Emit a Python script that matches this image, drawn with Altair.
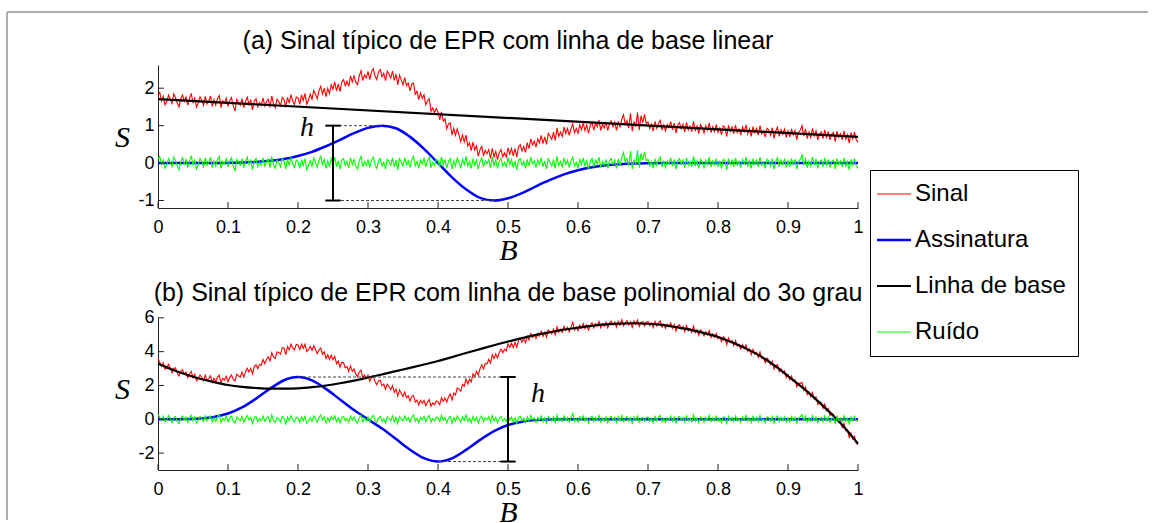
import altair as alt
import numpy as np
import pandas as pd

# ---------------------------------------------------------------- series / style
SERIES = ["Sinal", "Assinatura", "Linha de base", "Ruído"]
COLORS = ["#ff0000", "#0000ff", "#000000", "#00ff00"]
WIDTHS = [1.1, 2.5, 2.2, 1.1]

B_TICKS = [0, 0.1, 0.2, 0.3, 0.4, 0.5, 0.6, 0.7, 0.8, 0.9, 1]
S_TICKS_A = [-1, 0, 1, 2]
S_TICKS_B = [-2, 0, 2, 4, 6]

TITLE_A = "(a) Sinal típico de EPR com linha de base linear"
TITLE_B = "(b) Sinal típico de EPR com linha de base polinomial do 3o grau"

# smooth components sampled every 0.02 in B
B_SMOOTH = [i / 50 for i in range(51)]

# ---------------------------------------------------------------- panel (a)
BASE_A_B = [0, 1]
BASE_A_S = [1.71, 0.70]

BLUE_A = [0, 0, 0, 0, 0.001, 0.005,
          0.013, 0.03, 0.06, 0.11, 0.19, 0.30, 0.45, 0.62, 0.80, 0.94,
          1.0, 0.93, 0.70, 0.38, 0, -0.38, -0.70, -0.93, -1.0, -0.94,
          -0.80, -0.62, -0.45, -0.30, -0.19, -0.11, -0.06, -0.03, -0.013, -0.005,
          0, 0, 0, 0, 0, 0, 0, 0, 0, 0, 0, 0, 0, 0, 0]

NOISE_A = [
    0.10, 0.18, -0.04, 0.08, -0.14, -0.06, 0.12, 0.02, -0.10, 0.16, 0.06, -0.08, -0.18, 0.04, 0.14, -0.02, 0.10, -0.12, 0.06, 0.20,
    -0.06, 0.08, -0.16, -0.04, 0.12, 0.04, -0.10, 0.14, -0.06, 0.02, 0.16, -0.12, 0.06, -0.08, 0.10, 0.18, -0.14, 0.04, -0.02, 0.12,
    -0.10, 0.06, 0.14, -0.08, -0.22, 0.10, 0.02, -0.06, 0.12, -0.12, 0.04, 0.16, -0.04, 0.08, -0.18, 0.06, 0.12, -0.10, 0.02, -0.06,
    0.14, -0.08, 0.04, 0.10, -0.12, 0.18, -0.04, -0.14, 0.08, 0.02, -0.10, 0.12, 0.06, -0.16, 0.10, -0.06, 0.16, -0.02, -0.12, 0.08,
    0.04, -0.14, 0.10, -0.06, 0.12, -0.18, -0.08, 0.06, -0.08, 0.14, 0.02, -0.12, 0.08, 0.18, -0.04, 0.10, -0.14, 0.06, -0.10, 0.12,
    -0.02, 0.16, -0.10, 0.06, -0.16, 0.08, 0.12, -0.06, 0.04, -0.12, 0.14, -0.04, 0.10, -0.08, -0.16, 0.06, 0.18, -0.10, 0.04, -0.06,
    0.10, -0.12, 0.08, 0.16, -0.04, -0.14, 0.06, 0.12, -0.08, 0.02, -0.16, 0.10, 0.04, -0.06, 0.14, -0.10, 0.08, -0.18, 0.12, 0.02,
    -0.08, 0.14, -0.04, 0.06, -0.12, 0.10, 0.18, -0.08, 0.04, -0.14, 0.08, -0.02, 0.12, -0.10, 0.06, 0.16, -0.12, 0.02, -0.06, 0.10,
    0.06, -0.10, 0.16, -0.04, 0.08, -0.14, 0.04, 0.12, -0.16, 0.06, -0.08, 0.14, 0.02, -0.12, 0.10, -0.04, 0.18, -0.08, 0.04, -0.14,
    0.12, -0.06, 0.08, -0.16, 0.04, 0.14, -0.10, 0.06, -0.02, 0.10, -0.12, 0.16, -0.06, 0.08, -0.14, 0.04, 0.12, -0.08, 0.02, -0.10,
    0.14, -0.04, 0.10, -0.12, 0.06, -0.18, 0.08, 0.12, -0.06, 0.04, -0.14, 0.10, -0.08, 0.16, -0.02, 0.06, -0.12, 0.08, -0.04, 0.14,
    -0.10, 0.06, -0.16, 0.12, 0.02, -0.08, 0.10, -0.14, 0.18, -0.06, 0.04, -0.10, 0.14, -0.04, 0.08, -0.12, 0.06, 0.16, -0.08, 0.02,
    -0.12, 0.10, -0.04, 0.14, -0.08, 0.06, -0.16, 0.04, 0.12, -0.10, 0.08, -0.02, 0.16, -0.12, 0.04, -0.06, 0.10, -0.14, 0.06, 0.12,
    -0.04, 0.08, -0.14, 0.10, -0.06, 0.16, 0.28, 0.02, 0.12, -0.08, 0.32, -0.16, 0.10, -0.04, 0.34, -0.12, 0.26, 0.08, 0.30, 0.06,
    0.10, -0.08, 0.04, -0.14, 0.12, -0.06, 0.08, 0.16, -0.10, 0.04, -0.12, 0.06, -0.02, 0.14, -0.08, 0.10, -0.16, 0.06, 0.12, -0.04,
    0.08, -0.12, 0.14, -0.06, 0.04, -0.10, 0.18, -0.08, 0.06, -0.14, 0.10, 0.02, -0.12, 0.08, -0.04, 0.16, -0.10, 0.06, -0.06, 0.12,
    -0.08, 0.04, -0.14, 0.10, 0.06, -0.18, 0.12, -0.04, 0.08, -0.10, 0.14, -0.06, 0.04, -0.12, 0.10, -0.02, 0.16, -0.08, 0.06, -0.14,
    0.12, -0.04, 0.08, -0.10, 0.16, -0.06, 0.02, -0.14, 0.10, 0.06, -0.08, 0.12, -0.16, 0.04, 0.14, -0.10, 0.08, -0.04, 0.10, -0.12,
    0.06, -0.10, 0.12, -0.04, 0.08, -0.16, 0.04, 0.10, 0.22, -0.06, 0.14, -0.12, 0.06, -0.08, 0.16, -0.04, 0.10, -0.14, 0.02, 0.08,
    -0.10, 0.14, -0.06, 0.10, -0.12, 0.04, 0.08, -0.16, 0.12, -0.04, 0.06, -0.10, 0.14, -0.08, 0.04, -0.18, 0.10, -0.06, 0.12, -0.08,
    -0.14,
]

# h marker of panel (a): bar position, extremes and where the dashed guides end
H_A = {"B": 0.25, "top": 1.0, "bottom": -1.0, "top_to": 0.32, "bottom_to": 0.48,
       "label_B": 0.213, "label_S": 0.73}

# ---------------------------------------------------------------- panel (b)
BASE_B = [3.29, 2.95, 2.65, 2.40, 2.20, 2.03, 1.92, 1.85, 1.81, 1.81,
          1.83, 1.90, 2.00, 2.13, 2.29, 2.47, 2.65, 2.85, 3.04, 3.24,
          3.45, 3.68, 3.92, 4.15, 4.38, 4.60, 4.80, 4.99, 5.15, 5.30,
          5.42, 5.53, 5.61, 5.66, 5.68, 5.65, 5.58, 5.45, 5.30, 5.10,
          4.87, 4.55, 4.18, 3.75, 3.20, 2.56, 1.90, 1.18, 0.40, -0.45,
          -1.44]

BLUE_B = [0, 0, 0.015, 0.05, 0.14, 0.34, 0.70, 1.22, 1.81, 2.31,
          2.50, 2.30, 1.80, 1.17, 0.55, 0, -0.55, -1.17, -1.80, -2.30,
          -2.50, -2.31, -1.81, -1.22, -0.70, -0.34, -0.14, -0.05, -0.015, 0,
          0, 0, 0, 0, 0, 0, 0, 0, 0, 0, 0, 0, 0, 0, 0, 0, 0, 0, 0, 0, 0]

NOISE_B = [
    0.30, 0.12, -0.08, 0.18, -0.15, -0.05, 0.22, 0.04, -0.20, 0.10, 0.16, -0.12, -0.25, 0.06, 0.19, -0.03, 0.13, -0.18, 0.08, 0.24,
    -0.10, 0.14, -0.22, -0.06, 0.17, 0.05, -0.14, 0.21, -0.09, 0.03, 0.20, -0.17, 0.09, -0.12, 0.15, 0.26, -0.19, 0.06, -0.04, 0.18,
    -0.15, 0.08, 0.19, -0.11, -0.23, 0.14, 0.02, -0.09, 0.17, -0.18, 0.06, 0.23, -0.05, 0.11, -0.26, 0.09, 0.16, -0.14, 0.03, -0.08,
    0.20, -0.12, 0.05, 0.14, -0.17, 0.25, -0.06, -0.20, 0.11, 0.02, -0.15, 0.18, 0.08, -0.32, 0.13, -0.09, 0.22, -0.03, -0.16, 0.12,
    0.06, -0.19, 0.15, -0.08, 0.17, -0.24, -0.11, 0.09, -0.12, 0.20, 0.03, -0.17, 0.11, 0.26, -0.05, 0.14, -0.20, 0.08, -0.14, 0.17,
    -0.03, 0.22, -0.14, 0.09, -0.22, 0.12, 0.17, -0.08, 0.05, -0.17, 0.20, -0.06, 0.14, -0.11, -0.23, 0.09, 0.25, -0.14, 0.06, -0.09,
    0.14, -0.17, 0.11, 0.23, -0.05, -0.20, 0.08, 0.17, -0.12, 0.03, -0.22, 0.14, 0.06, -0.09, 0.20, -0.14, 0.11, -0.25, 0.17, 0.03,
    -0.11, 0.20, -0.06, 0.09, -0.17, 0.14, 0.25, -0.11, 0.05, -0.20, 0.11, -0.03, 0.17, -0.14, 0.08, 0.22, -0.17, 0.03, -0.09, 0.14,
    0.08, -0.14, 0.23, -0.05, 0.11, -0.20, 0.06, 0.17, -0.23, 0.09, -0.11, 0.20, 0.03, -0.17, 0.14, -0.06, 0.26, -0.12, 0.06, -0.20,
    0.17, -0.09, 0.11, -0.22, 0.06, 0.20, -0.14, 0.09, -0.03, 0.14, -0.17, 0.23, -0.09, 0.11, -0.20, 0.06, 0.17, -0.11, 0.03, -0.14,
    0.20, -0.06, 0.14, -0.17, 0.09, -0.25, 0.11, 0.17, -0.09, 0.06, -0.20, 0.14, -0.11, 0.23, -0.03, 0.09, -0.17, 0.11, -0.06, 0.20,
    -0.14, 0.09, -0.23, 0.17, 0.03, -0.11, 0.14, -0.20, 0.25, -0.09, 0.06, -0.14, 0.20, -0.06, 0.11, -0.17, 0.09, 0.35, -0.11, 0.03,
    -0.17, 0.14, -0.06, 0.20, -0.11, 0.09, -0.23, 0.06, 0.17, -0.14, 0.11, -0.03, 0.22, -0.17, 0.06, -0.09, 0.14, -0.20, 0.09, 0.17,
    -0.06, 0.11, -0.20, 0.14, -0.09, 0.23, -0.14, 0.03, 0.17, -0.11, 0.09, -0.23, 0.14, -0.06, 0.20, -0.17, 0.06, 0.11, -0.14, 0.09,
    0.14, -0.11, 0.06, -0.20, 0.17, -0.09, 0.11, 0.23, -0.14, 0.06, -0.17, 0.09, -0.03, 0.20, -0.11, 0.14, -0.23, 0.09, 0.17, -0.06,
    0.11, -0.17, 0.20, -0.09, 0.06, -0.14, 0.26, -0.11, 0.09, -0.20, 0.14, 0.03, -0.17, 0.11, -0.06, 0.23, -0.14, 0.09, -0.09, 0.17,
    -0.11, 0.06, -0.20, 0.14, 0.09, -0.25, 0.17, -0.06, 0.11, -0.14, 0.20, -0.09, 0.06, -0.17, 0.14, -0.03, 0.23, -0.11, 0.09, -0.20,
    0.17, -0.06, 0.11, -0.14, 0.23, -0.09, 0.03, -0.20, 0.14, 0.09, -0.11, 0.17, -0.23, 0.06, 0.20, -0.14, 0.11, -0.06, 0.14, -0.17,
    0.09, -0.14, 0.17, -0.06, 0.11, -0.22, 0.06, 0.14, 0.28, -0.09, 0.20, -0.17, 0.09, -0.11, 0.23, -0.06, 0.14, -0.20, 0.03, 0.11,
    -0.14, 0.20, -0.09, 0.14, -0.17, 0.06, 0.11, -0.23, 0.17, -0.06, 0.09, -0.14, 0.20, -0.11, 0.06, -0.26, 0.14, -0.09, 0.17, -0.11,
    -0.06,
]

H_B = {"B": 0.5, "top": 2.5, "bottom": -2.5, "top_to": 0.2, "bottom_to": 0.4,
       "label_B": 0.543, "label_S": 1.04}

CAP = 0.011  # half width of the h-bar end caps, in B units

FONT = "Liberation Sans"
SERIF = "Liberation Serif"
AXIS_COLOR = "#222222"
PLOT_W = 700

# legend symbols take the same stroke width as the line they stand for
_width_expr = " : ".join(
    f"datum.value == '{name}' ? {w}" for name, w in zip(SERIES, WIDTHS)
) + " : 1"


def panel(title, base_b, base_s, blue, noise, s_domain, s_ticks, height, h, legend, frame):
    x_enc = alt.X(
        "B:Q",
        scale=alt.Scale(domain=[0, 1], nice=False, zero=False),
        axis=alt.Axis(values=B_TICKS, labelExpr="'' + datum.value", ticks=False, grid=False,
                      domainColor=AXIS_COLOR, labelFont=FONT, labelFontSize=18, labelColor="black",
                      labelPadding=10, labelFlush=False, labelOverlap=False,
                      title="B", titleFont=SERIF, titleFontStyle="italic", titleFontWeight="normal",
                      titleFontSize=30, titleColor="black", titleX=PLOT_W / 2, titleY=51,
                      titleBaseline="alphabetic", titleAlign="center"),
    )
    y_enc = alt.Y(
        "S:Q",
        scale=alt.Scale(domain=s_domain, nice=False, zero=False),
        axis=alt.Axis(values=s_ticks, labelExpr="'' + datum.value", ticks=False, grid=False,
                      domainColor=AXIS_COLOR, labelFont=FONT, labelFontSize=18, labelColor="black",
                      labelPadding=4, labelOverlap=False,
                      title="S", titleFont=SERIF, titleFontStyle="italic", titleFontWeight="normal",
                      titleFontSize=30, titleColor="black", titleAngle=0, titleX=-36, titleY=81,
                      titleBaseline="alphabetic", titleAlign="center"),
    )
    color_enc = alt.Color("series:N", scale=alt.Scale(domain=SERIES, range=COLORS),
                          legend=legend if legend is not None else None)

    b_noise = np.linspace(0, 1, len(noise))
    base_fine = np.interp(b_noise, base_b, base_s)
    blue_fine = np.interp(b_noise, B_SMOOTH, blue)
    signal = base_fine + blue_fine + np.array(noise)

    curves = [
        (pd.DataFrame({"B": b_noise, "S": signal, "series": SERIES[0]}), "linear", WIDTHS[0]),
        (pd.DataFrame({"B": B_SMOOTH, "S": blue, "series": SERIES[1]}), "monotone", WIDTHS[1]),
        (pd.DataFrame({"B": base_b, "S": base_s, "series": SERIES[2]}), "monotone", WIDTHS[2]),
        (pd.DataFrame({"B": b_noise, "S": noise, "series": SERIES[3]}), "linear", WIDTHS[3]),
    ]

    one = pd.DataFrame({"k": [0]})
    layers = []

    # panel heading
    layers.append(alt.Chart(one).mark_text(text=title, font=FONT, fontSize=25, color="black",
                                           baseline="alphabetic", align="center").encode(
        x=alt.value(PLOT_W / 2), y=alt.value(-16)))

    for df, interp, w in curves:
        layers.append(alt.Chart(df).mark_line(interpolate=interp, strokeWidth=w).encode(
            x=x_enc, y=y_enc, color=color_enc))

    # inward ticks
    layers.append(alt.Chart(pd.DataFrame({"B": B_TICKS})).mark_rule(color=AXIS_COLOR, strokeWidth=1).encode(
        x=x_enc, y=alt.value(height), y2=alt.value(height - 6)))
    layers.append(alt.Chart(pd.DataFrame({"S": s_ticks})).mark_rule(color=AXIS_COLOR, strokeWidth=1).encode(
        y=y_enc, x=alt.value(0), x2=alt.value(6)))

    # h marker: dashed guides, bar and caps
    cap_end = h["B"] + CAP if h["top_to"] > h["B"] else h["B"] - CAP
    guides = pd.DataFrame({"B": [h["top_to"], h["bottom_to"]],
                           "B2": [cap_end, cap_end],
                           "S": [h["top"], h["bottom"]]})
    layers.append(alt.Chart(guides).mark_rule(color="#444444", strokeWidth=1, strokeDash=[3, 2]).encode(
        x=x_enc, x2="B2:Q", y=y_enc))
    bar = pd.DataFrame({"B": [h["B"]], "S": [h["top"]], "S2": [h["bottom"]]})
    layers.append(alt.Chart(bar).mark_rule(color="black", strokeWidth=2).encode(
        x=x_enc, y=y_enc, y2="S2:Q"))
    caps = pd.DataFrame({"B": [h["B"] - CAP, h["B"] - CAP], "B2": [h["B"] + CAP, h["B"] + CAP],
                         "S": [h["top"], h["bottom"]]})
    layers.append(alt.Chart(caps).mark_rule(color="black", strokeWidth=2).encode(
        x=x_enc, x2="B2:Q", y=y_enc))
    label = pd.DataFrame({"B": [h["label_B"]], "S": [h["label_S"]], "t": ["h"]})
    layers.append(alt.Chart(label).mark_text(font=SERIF, fontStyle="italic", fontSize=28,
                                              baseline="alphabetic", align="center", color="black").encode(
        x=x_enc, y=y_enc, text="t:N"))

    # figure frame (left and top edges)
    if frame:
        layers.append(alt.Chart(one).mark_rule(color="#adadad", strokeWidth=2).encode(
            x=alt.value(-151), y=alt.value(-53), y2=alt.value(455)))
        layers.append(alt.Chart(one).mark_rule(color="#adadad", strokeWidth=2).encode(
            x=alt.value(-151), x2=alt.value(990), y=alt.value(-53)))

    return alt.layer(*layers).properties(width=PLOT_W, height=height)


legend_b = alt.Legend(orient="none", legendX=712, legendY=-147, title=None,
                      labelFont=FONT, labelFontSize=24, labelColor="black", labelLimit=0,
                      symbolType="stroke", symbolSize=1156, labelOffset=9, symbolOffset=0,
                      padding=12, rowPadding=22, strokeColor="black", fillColor="white",
                      cornerRadius=0, zindex=1,
                      symbolStrokeWidth=alt.ExprRef(expr=_width_expr))

panel_a = panel(TITLE_A, BASE_A_B, BASE_A_S, BLUE_A, NOISE_A, [-1.2, 2.62], S_TICKS_A, 143, H_A, None, True)
panel_b = panel(TITLE_B, B_SMOOTH, BASE_B, BLUE_B, NOISE_B, [-3, 6.05], S_TICKS_B, 153, H_B, legend_b, False)

chart = alt.vconcat(panel_a, panel_b, spacing=109, bounds="flush").resolve_scale(
    color="independent"
).configure_view(stroke="transparent").properties(
    padding={"left": 5, "top": 10, "right": 0, "bottom": 0},
    background="white",
)

chart.save("out.html", embed_options={"renderer": "svg", "actions": False})
